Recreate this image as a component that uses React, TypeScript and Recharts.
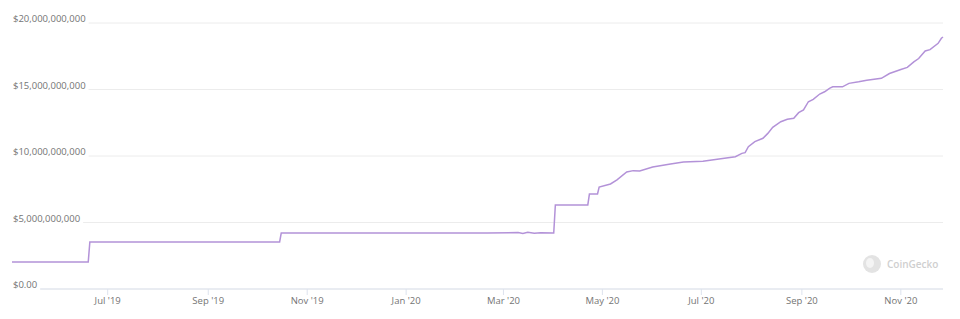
import React from 'react';
import { LineChart, Line, XAxis, YAxis, CartesianGrid } from 'recharts';

// market cap, in billions of USD
const dates = [
  '2019-05-03', '2019-06-19', '2019-06-20', '2019-08-15', '2019-10-15', '2019-10-16',
  '2019-12-15', '2020-02-20', '2020-03-10', '2020-03-13', '2020-03-16', '2020-03-20',
  '2020-03-24', '2020-04-01', '2020-04-02', '2020-04-22', '2020-04-23', '2020-04-28',
  '2020-04-29', '2020-05-06', '2020-05-10', '2020-05-16', '2020-05-20', '2020-05-24',
  '2020-06-01', '2020-06-12', '2020-06-20', '2020-07-02', '2020-07-13', '2020-07-22',
  '2020-07-26', '2020-07-28', '2020-07-30', '2020-08-03', '2020-08-08', '2020-08-11',
  '2020-08-14', '2020-08-19', '2020-08-23', '2020-08-27', '2020-08-30', '2020-09-02',
  '2020-09-05', '2020-09-08', '2020-09-12', '2020-09-15', '2020-09-18', '2020-09-20',
  '2020-09-26', '2020-09-30', '2020-10-06', '2020-10-11', '2020-10-20', '2020-10-25',
  '2020-11-01', '2020-11-05', '2020-11-09', '2020-11-12', '2020-11-16', '2020-11-19',
  '2020-11-24', '2020-11-26', '2020-11-27',
];
const marketCapB = [
  2.03, 2.03, 3.53, 3.54, 3.54, 4.21,
  4.21, 4.21, 4.24, 4.18, 4.27, 4.2,
  4.22, 4.21, 6.32, 6.32, 7.14, 7.14,
  7.67, 7.9, 8.2, 8.8, 8.9, 8.87,
  9.17, 9.4, 9.55, 9.6, 9.8, 9.95,
  10.2, 10.25, 10.7, 11.08, 11.33, 11.7,
  12.16, 12.58, 12.76, 12.83, 13.26, 13.46,
  14.08, 14.26, 14.66, 14.83, 15.09, 15.2,
  15.2, 15.46, 15.58, 15.7, 15.84, 16.2,
  16.5, 16.66, 17.08, 17.33, 17.9, 18.0,
  18.47, 18.85, 18.95,
];

const xTickDates = [
  '2019-07-01', '2019-09-01', '2019-11-01', '2020-01-01', '2020-03-01',
  '2020-05-01', '2020-07-01', '2020-09-01', '2020-11-01',
];
const yTicks = [0, 5e9, 10e9, 15e9, 20e9];
const months = ['Jan', 'Feb', 'Mar', 'Apr', 'May', 'Jun', 'Jul', 'Aug', 'Sep', 'Oct', 'Nov', 'Dec'];

const toTs = (d: string) => Date.parse(d + 'T00:00:00Z');

const data = dates.map((d, i) => ({ t: toTs(d), v: marketCapB[i] * 1e9 }));
const xTicks = xTickDates.map(toTs);
const domainX = [toTs('2019-05-03'), toTs('2020-11-27')];

const FONT = '"Open Sans", sans-serif';

const formatDate = (ts: number) => {
  const d = new Date(ts);
  return `${months[d.getUTCMonth()]} '${String(d.getUTCFullYear()).slice(2)}`;
};

const formatMoney = (v: number) => (v === 0 ? '$0.00' : '$' + v.toLocaleString('en-US'));

// rough text width so the white box hides the gridline behind the label
const textWidth = (s: string) =>
  s.split('').reduce((w, c) => w + (c === ',' || c === '.' ? 2.4 : 5.45), 0);

const YTick = ({ y, payload }: any) => {
  const label = formatMoney(payload.value);
  const w = textWidth(label);
  return (
    <g>
      <rect x={12} y={y - 10} width={w + 4} height={12} fill="#fff" />
      <text x={13} y={y - 1} fontSize={9.5} fontFamily={FONT} fill="#747474">
        {label}
      </text>
    </g>
  );
};

export default function App() {
  return (
    <div style={{ position: 'absolute', left: 0, top: 0, width: 960, height: 319, background: '#fff', fontFamily: FONT }}>
      <LineChart width={960} height={319} data={data} margin={{ top: 23, right: 17, left: 11, bottom: 0 }}>
        <CartesianGrid vertical={false} stroke="#ececec" />
        <XAxis
          dataKey="t"
          type="number"
          domain={domainX}
          ticks={xTicks}
          tickFormatter={formatDate}
          height={30}
          tickSize={6}
          tickMargin={2}
          axisLine={{ stroke: '#dde3ee' }}
          tickLine={{ stroke: '#dde3ee' }}
          tick={{ fontSize: 9.5, fill: '#747474', fontFamily: FONT }}
        />
        <YAxis
          type="number"
          domain={[0, 20e9]}
          ticks={yTicks}
          width={1}
          axisLine={false}
          tickLine={false}
          interval={0}
          tick={(p: any) => <YTick {...p} />}
        />
        <Line
          type="linear"
          dataKey="v"
          stroke="#b392d8"
          strokeWidth={1.5}
          dot={false}
          isAnimationActive={false}
        />
      </LineChart>
      <div style={{ position: 'absolute', left: 862, top: 254, display: 'flex', alignItems: 'center' }}>
        <svg width={20} height={20}>
          <circle cx={10} cy={10} r={9} fill="#e3e3e3" />
          <ellipse cx={8} cy={9} rx={4} ry={5} fill="#f4f4f4" />
        </svg>
        <span style={{ marginLeft: 5, fontSize: 10, color: '#cfcfcf', fontWeight: 600 }}>CoinGecko</span>
      </div>
    </div>
  );
}
